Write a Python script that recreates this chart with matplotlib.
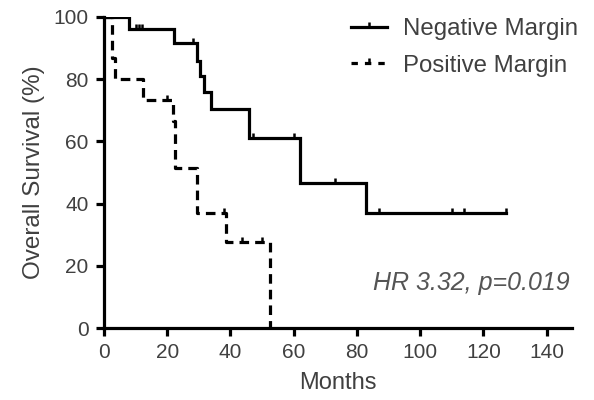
import matplotlib
matplotlib.use("Agg")
import matplotlib.pyplot as plt
from matplotlib.path import Path
from matplotlib.lines import Line2D

plt.rcParams['font.family'] = ['Liberation Sans', 'DejaVu Sans']

# Negative margin (step curve)
neg_times = [0, 8, 22, 29.5, 30.5, 31.5, 34, 46, 62, 83]
neg_surv = [100, 96, 91.5, 86, 81, 76, 70.5, 61, 46.5, 37]
neg_end = 127
neg_censor_t = [10, 11, 12, 28, 47, 60, 73, 87, 110, 114, 127]

# Positive margin (step curve)
pos_times = [0, 2.5, 3.5, 12.5, 21.8, 22.5, 29.5, 38.5, 52.5]
pos_surv = [100, 86.7, 80, 73.3, 66.7, 51.3, 37, 27.5, 0]
pos_end = 52.5
pos_censor_t = [20, 38, 43.5, 50]

xticks = [0, 20, 40, 60, 80, 100, 120, 140]
yticks = [0, 20, 40, 60, 80, 100]

TXT = '#404040'
tick_marker = Path([(0, 0), (0, 1)], [Path.MOVETO, Path.LINETO])


def surv_at(times, surv, t):
    v = surv[0]
    for ti, si in zip(times, surv):
        if t >= ti:
            v = si
    return v


fig = plt.figure(figsize=(5.94, 4.0), dpi=100)
ax = fig.add_axes([0.175, 0.18, 0.788, 0.7775])

lw = 2.3
ms = 6.5
# negative
nx = list(neg_times) + [neg_end]
ny = list(neg_surv) + [neg_surv[-1]]
ax.step(nx, ny, where='post', color='black', lw=lw, solid_joinstyle='miter')
ax.plot(neg_censor_t, [surv_at(neg_times, neg_surv, t) for t in neg_censor_t],
        ls='none', marker=tick_marker, ms=ms, mew=1.8, color='black')
# positive
px = list(pos_times) + [pos_end]
py = list(pos_surv) + [pos_surv[-1]]
ax.step(px, py, where='post', color='black', lw=lw, dashes=(3.0, 1.9))
ax.plot(pos_censor_t, [surv_at(pos_times, pos_surv, t) for t in pos_censor_t],
        ls='none', marker=tick_marker, ms=ms, mew=1.8, color='black')

ax.set_xlim(0, 148)
ax.set_ylim(0, 100)
ax.set_xticks(xticks)
ax.set_yticks(yticks)
for s in ['top', 'right']:
    ax.spines[s].set_visible(False)
for s in ['left', 'bottom']:
    ax.spines[s].set_linewidth(2.3)
ax.tick_params(width=2.3, length=6, labelsize=15, labelcolor=TXT, pad=5)
ax.set_xlabel('Months', fontsize=17, color=TXT, labelpad=7)
ax.set_ylabel('Overall Survival (%)', fontsize=17.5, color=TXT, labelpad=6)

h1 = Line2D([], [], color='black', lw=lw, marker=tick_marker, ms=ms, mew=1.8)
h2 = Line2D([], [], color='black', lw=lw, dashes=(2.0, 2.2), marker=tick_marker, ms=ms, mew=1.8)
leg = ax.legend([h1, h2], ['Negative Margin', 'Positive Margin'], loc='upper right',
                bbox_to_anchor=(1.06, 1.065), frameon=False, fontsize=17.3,
                handlelength=1.5, handletextpad=0.7, labelspacing=0.6, numpoints=1)
for t in leg.get_texts():
    t.set_color(TXT)

ax.text(0.995, 0.145, 'HR 3.32, p=0.019', transform=ax.transAxes, ha='right', va='center',
        fontsize=18, style='italic', color='#555555')

fig.savefig('out.png', dpi=100)
